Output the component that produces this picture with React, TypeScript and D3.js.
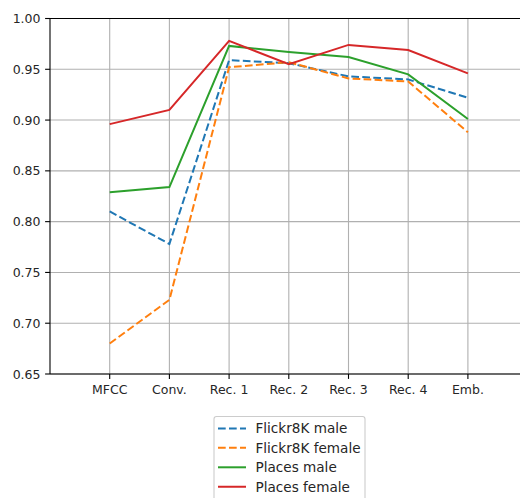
import React, { useEffect, useRef } from "react";
import * as d3 from "d3";

const layers = ["MFCC", "Conv.", "Rec. 1", "Rec. 2", "Rec. 3", "Rec. 4", "Emb."];
const yTicks = [0.65, 0.7, 0.75, 0.8, 0.85, 0.9, 0.95, 1.0];

const flickrMale = [0.81, 0.778, 0.959, 0.956, 0.943, 0.94, 0.922];
const flickrFemale = [0.68, 0.723, 0.952, 0.957, 0.941, 0.938, 0.888];
const placesMale = [0.829, 0.834, 0.973, 0.967, 0.962, 0.945, 0.901];
const placesFemale = [0.896, 0.91, 0.978, 0.955, 0.974, 0.969, 0.946];

const seriesNames = ["Flickr8K male", "Flickr8K female", "Places male", "Places female"];
const seriesColors = ["#1f77b4", "#ff7f0e", "#2ca02c", "#d62728"];
const seriesDashed = [true, true, false, false];

const App: React.FC = () => {
  const ref = useRef<SVGSVGElement>(null);

  useEffect(() => {
    const width = 520;
    const height = 498;
    const font = "DejaVu Sans, sans-serif";
    const tickSize = 12.5;
    const legendSize = 13.6;
    const dash = "7.7,3.3";
    const svg = d3.select(ref.current).attr("width", width).attr("height", height);
    svg.selectAll("*").remove();

    const left = 50;
    const top = 18.5;
    const bottom = 374;
    const step = 59.7;

    // index -1 .. 7, right side runs off the picture
    const x = d3.scaleLinear().domain([-1, 7]).range([left, left + 8 * step]);
    const y = d3.scaleLinear().domain([0.65, 1.0]).range([bottom, top]);

    const g = svg.append("g");

    // grid
    g.selectAll(".gx")
      .data(layers)
      .enter()
      .append("line")
      .attr("x1", (_, i) => x(i))
      .attr("x2", (_, i) => x(i))
      .attr("y1", top)
      .attr("y2", bottom)
      .attr("stroke", "#b0b0b0")
      .attr("stroke-width", 1.1);
    g.selectAll(".gy")
      .data(yTicks)
      .enter()
      .append("line")
      .attr("x1", left)
      .attr("x2", width)
      .attr("y1", (d) => y(d))
      .attr("y2", (d) => y(d))
      .attr("stroke", "#b0b0b0")
      .attr("stroke-width", 1.1);

    // lines
    const allSeries = [flickrMale, flickrFemale, placesMale, placesFemale];
    const line = d3
      .line<number>()
      .x((_, i) => x(i))
      .y((d) => y(d));
    allSeries.forEach((vals, k) => {
      g.append("path")
        .attr("d", line(vals))
        .attr("fill", "none")
        .attr("stroke", seriesColors[k])
        .attr("stroke-width", 2)
        .attr("stroke-dasharray", seriesDashed[k] ? dash : null);
    });

    // spines
    g.append("line")
      .attr("x1", left).attr("x2", left).attr("y1", top).attr("y2", bottom)
      .attr("stroke", "#000").attr("stroke-width", 1.1);
    g.append("line")
      .attr("x1", left).attr("x2", width).attr("y1", top).attr("y2", top)
      .attr("stroke", "#000").attr("stroke-width", 1.1);
    g.append("line")
      .attr("x1", left).attr("x2", width).attr("y1", bottom).attr("y2", bottom)
      .attr("stroke", "#000").attr("stroke-width", 1.1);

    // y ticks
    yTicks.forEach((t) => {
      g.append("line")
        .attr("x1", left - 4.9).attr("x2", left).attr("y1", y(t)).attr("y2", y(t))
        .attr("stroke", "#000").attr("stroke-width", 1.1);
      g.append("text")
        .attr("x", left - 9.5)
        .attr("y", y(t))
        .attr("dy", "0.36em")
        .attr("text-anchor", "end")
        .attr("font-family", font)
        .attr("font-size", tickSize)
        .attr("fill", "#262626")
        .text(d3.format(".2f")(t));
    });

    // x ticks
    layers.forEach((lab, i) => {
      g.append("line")
        .attr("x1", x(i)).attr("x2", x(i)).attr("y1", bottom).attr("y2", bottom + 4.9)
        .attr("stroke", "#000").attr("stroke-width", 1.1);
      g.append("text")
        .attr("x", x(i))
        .attr("y", 394.3)
        .attr("text-anchor", "middle")
        .attr("font-family", font)
        .attr("font-size", tickSize)
        .attr("fill", "#262626")
        .text(lab);
    });

    // legend
    const lg = svg.append("g");
    lg.append("rect")
      .attr("x", 214)
      .attr("y", 416.5)
      .attr("width", 151)
      .attr("height", 95)
      .attr("rx", 2.5)
      .attr("fill", "#fff")
      .attr("fill-opacity", 0.8)
      .attr("stroke", "#cccccc")
      .attr("stroke-width", 1.1);
    seriesNames.forEach((name, k) => {
      const cy = 428.4 + k * 19.45;
      lg.append("line")
        .attr("x1", 218).attr("x2", 246).attr("y1", cy).attr("y2", cy)
        .attr("stroke", seriesColors[k])
        .attr("stroke-width", 2)
        .attr("stroke-dasharray", seriesDashed[k] ? dash : null);
      lg.append("text")
        .attr("x", 255.5)
        .attr("y", cy)
        .attr("dy", "0.36em")
        .attr("font-family", font)
        .attr("font-size", legendSize)
        .attr("fill", "#262626")
        .text(name);
    });
  }, []);

  return (
    <svg
      ref={ref}
      style={{ position: "absolute", left: 0, top: 0, display: "block" }}
    ></svg>
  );
};

export default App;
